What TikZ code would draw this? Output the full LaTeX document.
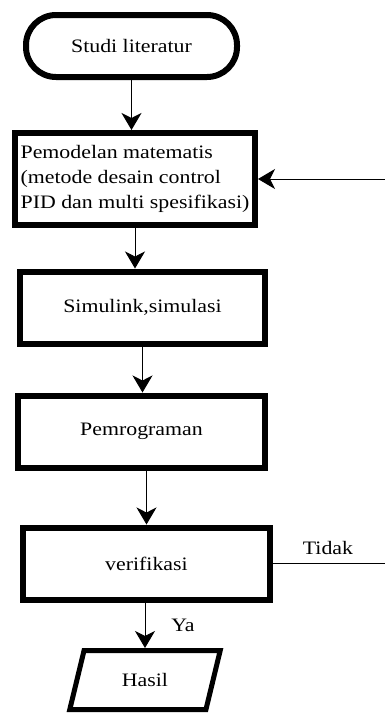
\documentclass[tikz,border=0pt]{standalone}
\usepackage{fontspec}
\setmainfont{Liberation Serif}[FakeStretch=1.15]
\usetikzlibrary{shapes, arrows, positioning, arrows.meta}

\begin{document}
\begin{tikzpicture}[>={Stealth[length=17pt, width=20pt, inset=5pt]}, x=1pt, y=-1pt,
    box/.style={draw, line width=6pt, inner sep=0pt, font=\fontsize{19}{25}\selectfont},
    lbl/.style={font=\fontsize{19}{25}\selectfont},
    flow/.style={->, line width=1pt}]

    \useasboundingbox (0,0) rectangle (385,713);
    \clip (0,0) rectangle (385,713);

    % Start
    \node[box, rounded corners=30pt, minimum width=211pt, minimum height=62pt] (start) at (131.5,46) {Studi literatur};

    % Model
    \node[box, align=left, minimum width=240pt, minimum height=92pt] (model) at (135,179)
        {Pemodelan matematis\\(metode desain control\\PID dan multi spesifikasi)};

    % Process boxes
    \foreach \n/\x/\y/\w/\val in {sim/142.5/307.5/245/{Simulink,simulasi}, prog/141.5/431.5/247/{Pemrograman}, verif/146.5/563.5/247/{verifikasi}} {
        \node[box, minimum width=\w pt, minimum height=72pt] (\n) at (\x,\y) {\val};
    }

    % Output
    \node[box, line width=5pt, trapezium, trapezium left angle=68, trapezium right angle=112,
        trapezium stretches=true, minimum width=151pt, minimum height=59pt] (hasil) at (145,680) {Hasil};

    % Arrows
    \draw[flow] (start.south) -- (start.south |- model.north);
    \draw[flow] (model.south) -- (model.south |- sim.north);
    \draw[flow] (sim.south) -- (sim.south |- prog.north);
    \draw[flow] (prog.south -| verif.north) -- (verif.north);
    \draw[flow] (verif.south -| hasil.north) -- (hasil.north);

    % Feedback
    \draw[flow] (verif.east) -- ++(125,0) |- (model.east);

    \node[lbl] (ya) at (183,625) {Ya};
    \node[lbl] (tidak) at (328,548) {Tidak};
\end{tikzpicture}
\end{document}
